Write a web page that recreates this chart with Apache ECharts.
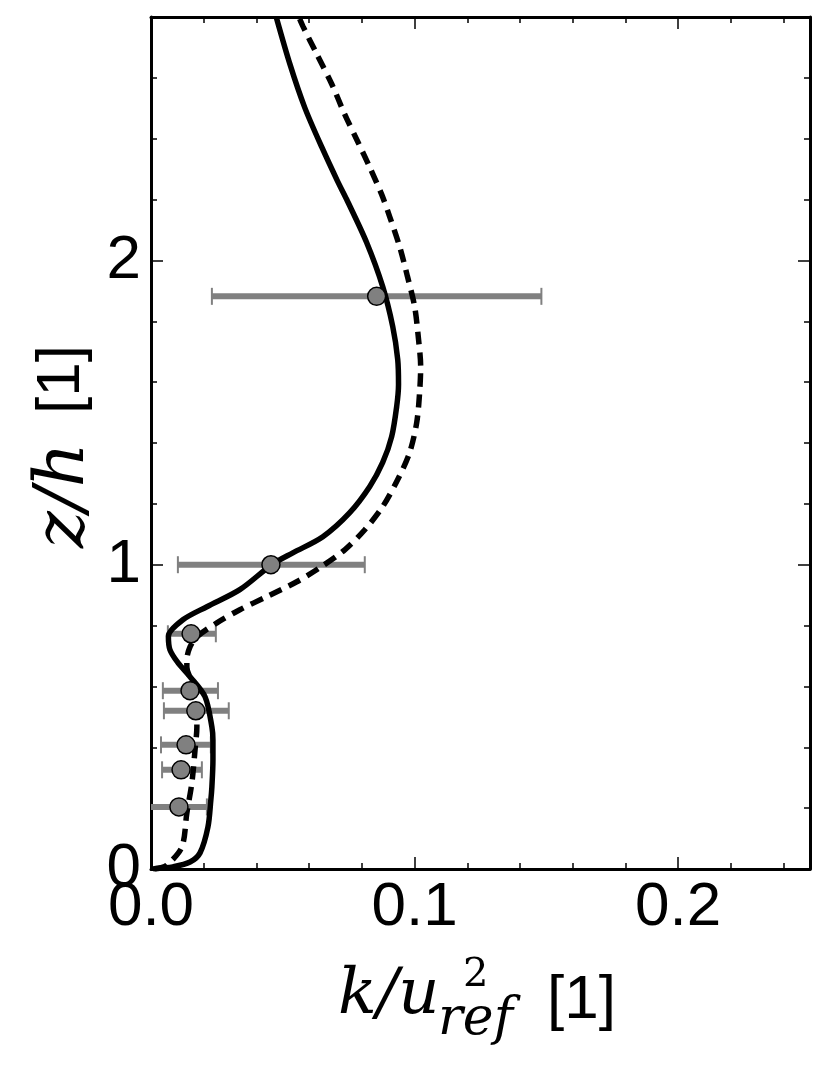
<!DOCTYPE html>
<html>
<head>
<meta charset="utf-8">
<script src="https://cdn.jsdelivr.net/npm/echarts@6/dist/echarts.min.js"></script>
<style>
  html, body { margin: 0; padding: 0; background: #fff; }
  #myChart { width: 830px; height: 1073px; }
</style>
</head>
<body>
<div id="myChart"></div>
<script>
// simulation, solid line
const solidK = [0.0008, 0.0034, 0.0083, 0.0148, 0.0186, 0.0216, 0.0227, 0.0231, 0.0235, 0.0235, 0.0231, 0.0205, 0.0148, 0.0102, 0.0072, 0.0066, 0.0121, 0.0212, 0.0337, 0.0458, 0.0538, 0.0652, 0.0754, 0.0830, 0.0879, 0.0913, 0.0932, 0.0939, 0.0936, 0.0917, 0.0879, 0.0818, 0.0742, 0.0708, 0.0648, 0.0583, 0.0527, 0.0475]
const solidZ = [0, 0.003, 0.007, 0.023, 0.053, 0.138, 0.227, 0.270, 0.359, 0.424, 0.467, 0.566, 0.632, 0.678, 0.720, 0.765, 0.819, 0.862, 0.918, 1.0, 1.039, 1.092, 1.171, 1.257, 1.336, 1.421, 1.520, 1.592, 1.674, 1.783, 1.914, 2.059, 2.201, 2.260, 2.372, 2.503, 2.645, 2.80]
// simulation, dashed line
const dashK = [0.0015, 0.0034, 0.0061, 0.0117, 0.0136, 0.0155, 0.0167, 0.0174, 0.0167, 0.0136, 0.0136, 0.0148, 0.0174, 0.0250, 0.0337, 0.0439, 0.0553, 0.0640, 0.0735, 0.0811, 0.0879, 0.0936, 0.0981, 0.1008, 0.1019, 0.1023, 0.1015, 0.1000, 0.0973, 0.0943, 0.0905, 0.0875, 0.0830, 0.0784, 0.0735, 0.0686, 0.0629, 0.0576, 0.0561]
const dashZ = [0, 0.003, 0.013, 0.072, 0.184, 0.283, 0.391, 0.467, 0.589, 0.664, 0.688, 0.730, 0.763, 0.809, 0.852, 0.895, 0.944, 0.990, 1.049, 1.115, 1.191, 1.280, 1.368, 1.467, 1.566, 1.651, 1.740, 1.849, 1.947, 2.046, 2.145, 2.217, 2.306, 2.391, 2.480, 2.579, 2.678, 2.770, 2.80]
// measurements with min/max range
const expK = [0.0856, 0.0455, 0.0152, 0.0148, 0.0170, 0.0133, 0.0114, 0.0106]
const expZ = [1.882, 1.0, 0.773, 0.586, 0.520, 0.408, 0.326, 0.204]
const expLow = [0.0231, 0.0102, 0.0064, 0.0045, 0.0049, 0.0038, 0.0042, -0.002]
const expHigh = [0.1481, 0.0811, 0.0246, 0.0254, 0.0295, 0.0227, 0.0193, 0.0212]
// axes
const xTicks = { min: 0, max: 0.25, interval: 0.1 }
const yTicks = { min: 0, max: 2.8, interval: 1 }

const zip = (a, b) => a.map((v, i) => [v, b[i]])

const tickFont = { fontFamily: 'Liberation Sans', fontSize: 62, color: '#000' }
const mathFamily = '"DejaVu Serif"'

function makeAxis (base, pos, showLabel) {
  return Object.assign({
    type: 'value',
    position: pos,
    axisLine: { show: true, onZero: false, lineStyle: { color: '#000', width: 3 } },
    axisTick: { show: true, inside: true, length: 12, lineStyle: { color: '#000', width: 1.5 } },
    minorTick: { show: true, splitNumber: 5, length: 6, lineStyle: { color: '#000', width: 1.5 } },
    splitLine: { show: false },
    axisLabel: { show: showLabel }
  }, base)
}

let myChart = echarts.init(document.getElementById('myChart'))
myChart.setOption({
  animation: false,
  backgroundColor: '#fff',
  grid: { left: 151, right: 20, top: 17, bottom: 204 },
  xAxis: [
    makeAxis(Object.assign({}, xTicks, { axisLabel: Object.assign({ show: true, showMaxLabel: false, margin: 8, formatter: v => v.toFixed(1) }, tickFont) }), 'bottom', true),
    makeAxis(xTicks, 'top', false)
  ],
  yAxis: [
    makeAxis(Object.assign({}, yTicks, { axisLabel: Object.assign({ show: true, showMaxLabel: false, margin: 10, formatter: v => String(v) }, tickFont) }), 'left', true),
    makeAxis(yTicks, 'right', false)
  ],
  series: [
    {
      // horizontal range bars
      type: 'custom',
      clip: true,
      z: 1,
      data: expK.map((k, i) => [k, expZ[i], expLow[i], expHigh[i]]),
      encode: { x: [0, 2, 3], y: 1 },
      renderItem (params, api) {
        let z = api.value(1)
        let p1 = api.coord([api.value(2), z])
        let p2 = api.coord([api.value(3), z])
        let style = { stroke: '#808080', lineWidth: 6 }
        let cap = { stroke: '#808080', lineWidth: 2 }
        return {
          type: 'group',
          children: [
            { type: 'line', shape: { x1: p1[0], y1: p1[1], x2: p2[0], y2: p2[1] }, style: style },
            { type: 'line', shape: { x1: p1[0], y1: p1[1] - 8.5, x2: p1[0], y2: p1[1] + 8.5 }, style: cap },
            { type: 'line', shape: { x1: p2[0], y1: p2[1] - 8.5, x2: p2[0], y2: p2[1] + 8.5 }, style: cap }
          ]
        }
      }
    },
    {
      type: 'line',
      z: 3,
      data: zip(solidK, solidZ),
      smooth: 0.3,
      showSymbol: false,
      clip: true,
      lineStyle: { color: '#000', width: 5.5 }
    },
    {
      type: 'line',
      z: 3,
      data: zip(dashK, dashZ),
      smooth: 0.3,
      showSymbol: false,
      clip: true,
      lineStyle: { color: '#000', width: 5.5, type: [13, 8] }
    },
    {
      type: 'scatter',
      z: 5,
      data: zip(expK, expZ),
      symbol: 'circle',
      symbolSize: 18,
      itemStyle: { color: '#808080', borderColor: '#000', borderWidth: 1.5, opacity: 1 }
    }
  ],
  graphic: [
    // x axis title: k/u^2_ref [1]
    { type: 'text', x: 338, y: 996, style: { text: 'k/u', font: 'italic 64px ' + mathFamily, fill: '#000', verticalAlign: 'middle' } },
    { type: 'text', x: 463, y: 976, style: { text: '2', font: '40px ' + mathFamily, fill: '#000', verticalAlign: 'middle' } },
    { type: 'text', x: 438, y: 1020, style: { text: 'ref', font: 'italic 52px ' + mathFamily, fill: '#000', verticalAlign: 'middle' } },
    { type: 'text', x: 547, y: 1001, style: { text: '[1]', font: '62px "Liberation Sans"', fill: '#000', verticalAlign: 'middle' } },
    // y axis title: z/h [1]
    {
      type: 'group',
      x: 62,
      y: 446,
      rotation: Math.PI / 2,
      children: [
        { type: 'text', x: -102, y: 3, style: { text: 'z/h', font: 'italic 70px ' + mathFamily, fill: '#000', verticalAlign: 'middle' } },
        { type: 'text', x: 32, y: 0, style: { text: '[1]', font: '62px "Liberation Sans"', fill: '#000', verticalAlign: 'middle' } }
      ]
    }
  ]
})
</script>
</body>
</html>
